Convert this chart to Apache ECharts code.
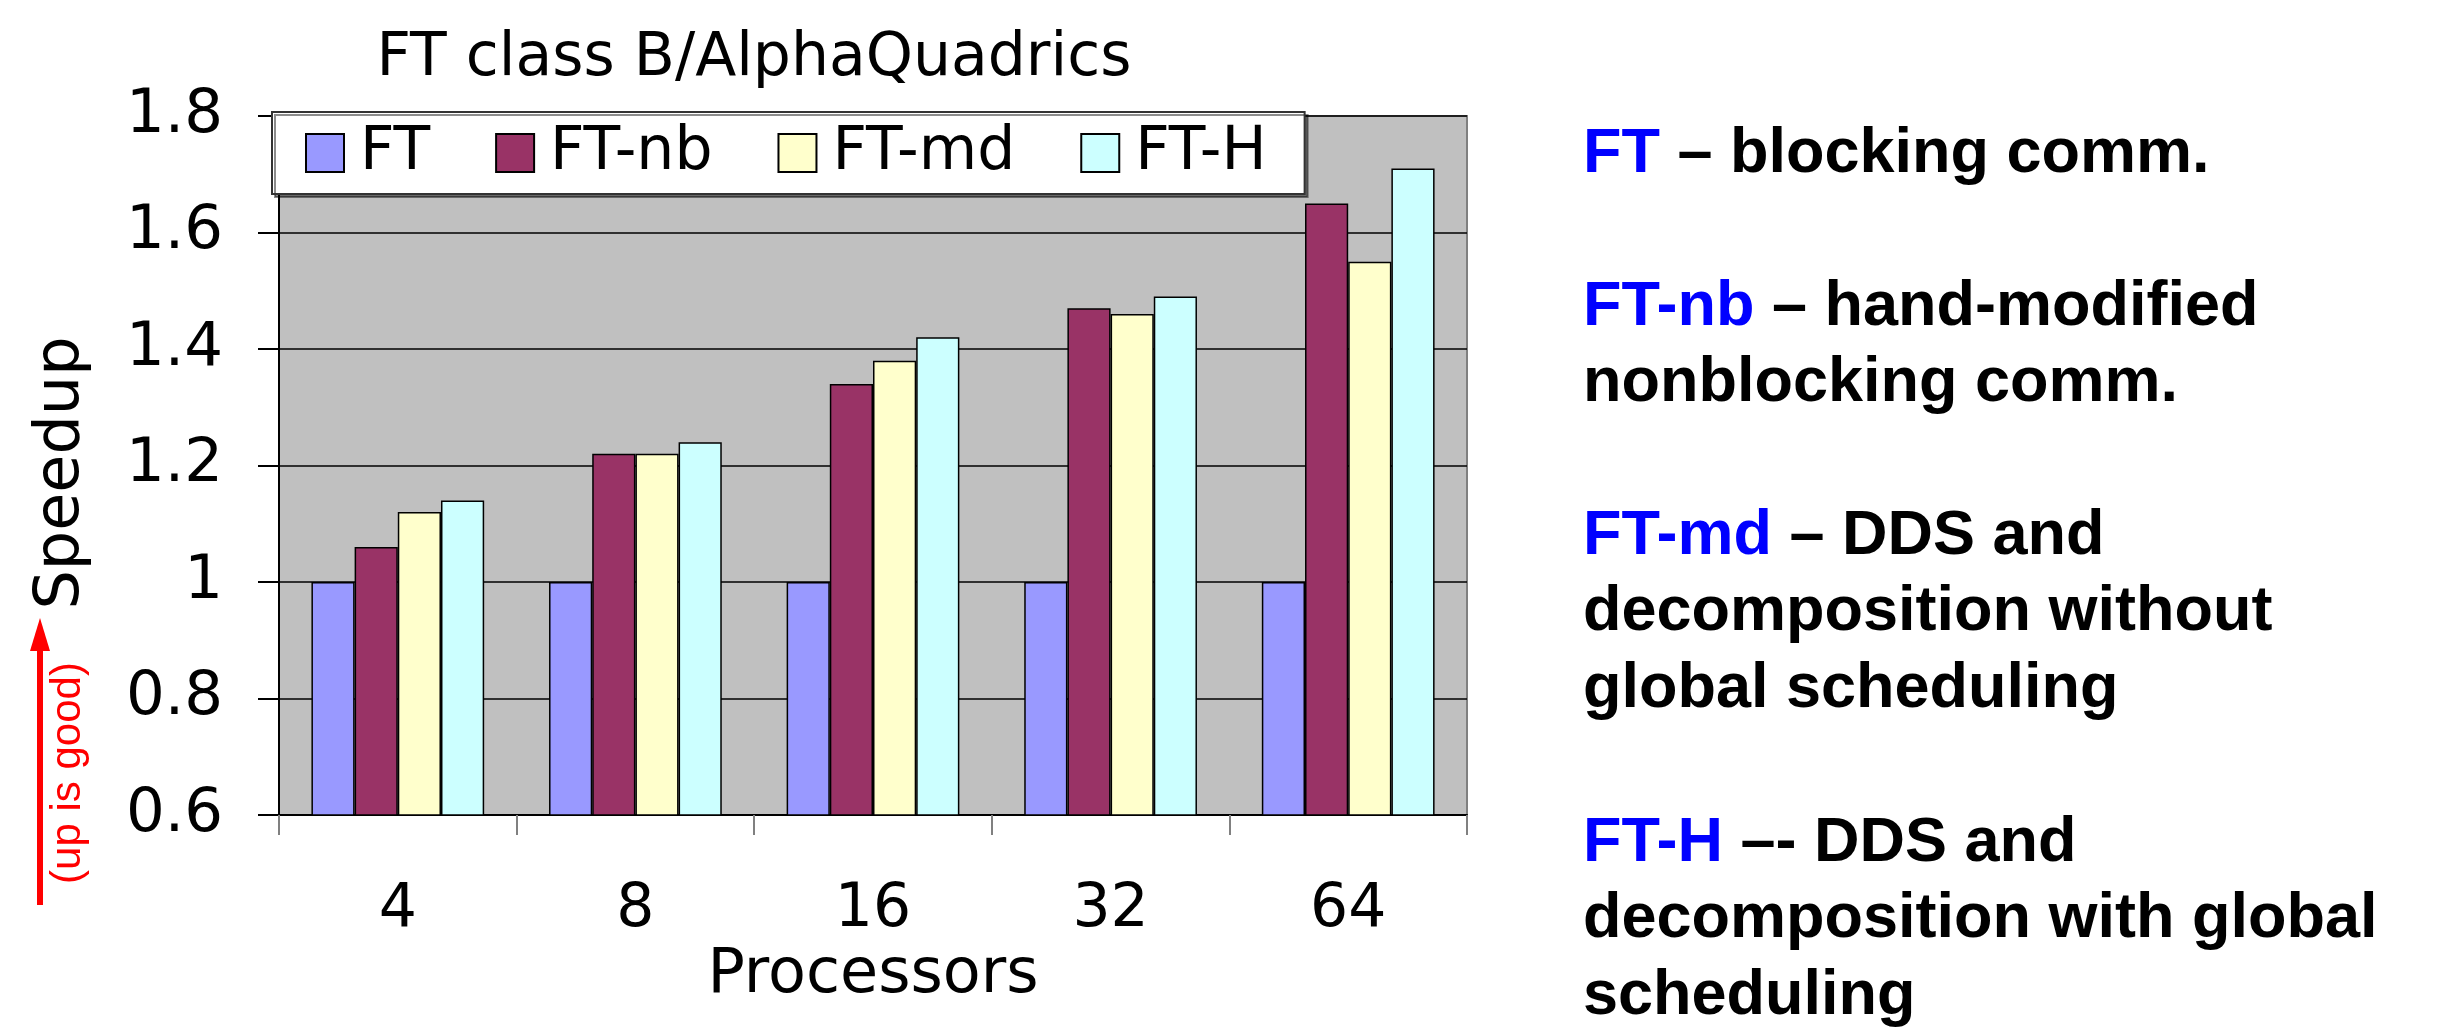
<!DOCTYPE html>
<html>
<head>
<meta charset="utf-8">
<script src="https://cdn.jsdelivr.net/npm/echarts@6/dist/echarts.min.js"></script>
<style>
  html, body { margin: 0; padding: 0; background: #fff; }
  #main { width: 2443px; height: 1035px; }
</style>
</head>
<body>
<div id="main"></div>
<script>
// processors on the x axis
const processors = ['4', '8', '16', '32', '64'];
// speedup per variant
const ftBlocking = [1.0, 1.0, 1.0, 1.0, 1.0];
const ftNb = [1.06, 1.22, 1.34, 1.47, 1.65];
const ftMd = [1.12, 1.22, 1.38, 1.46, 1.55];
const ftH = [1.14, 1.24, 1.42, 1.49, 1.71];
const seriesNames = ['FT', 'FT-nb', 'FT-md', 'FT-H'];
const seriesColors = ['#9999FF', '#993366', '#FFFFCC', '#CCFFFF'];
// explanation on the right: [blue part, black part]
const notes = [
  ['FT', ' – blocking comm.'],
  ['FT-nb', ' – hand-modified\nnonblocking comm.'],
  ['FT-md', ' – DDS and\ndecomposition without\nglobal scheduling'],
  ['FT-H', ' –- DDS and\ndecomposition with global\nscheduling']
];
const noteTops = [116, 269, 498, 805];

const chart = echarts.init(document.getElementById('main'));

const axisFont = 'DejaVu Sans';
const noteFont = 'bold 63px "Liberation Sans", Arial, sans-serif';
const lh = 76.5;

const dataSets = [ftBlocking, ftNb, ftMd, ftH];

const noteGraphics = notes.map((n, i) => ({
  type: 'text',
  left: 1583,
  top: noteTops[i],
  style: {
    text: '{b|' + n[0] + '}' + n[1].split('\n').map(s => '{k|' + s + '}').join('\n'),
    font: noteFont,
    fill: '#000',
    lineHeight: lh,
    rich: {
      b: { fill: '#0000FF', font: noteFont, lineHeight: lh },
      k: { fill: '#000', font: noteFont, lineHeight: lh }
    }
  }
}));

chart.setOption({
  animation: false,
  backgroundColor: '#fff',
  title: {
    text: 'FT class B/AlphaQuadrics',
    left: 754,
    top: 59,
    padding: 0,
    textAlign: 'center',
    textVerticalAlign: 'middle',
    textStyle: { fontFamily: axisFont, fontSize: 60, fontWeight: 'normal', color: '#000' }
  },
  legend: {
    left: 272,
    top: 112,
    padding: [11, 38, 11, 33],
    itemWidth: 38,
    itemHeight: 38,
    itemGap: 65,
    icon: 'rect',
    backgroundColor: '#fff',
    borderColor: '#333',
    borderWidth: 2,
    shadowColor: 'rgba(0,0,0,0.45)',
    shadowOffsetX: 3,
    shadowOffsetY: 3,
    shadowBlur: 0,
    textStyle: { fontFamily: axisFont, fontSize: 60, color: '#000', padding: [0, 0, 0, 11] },
    data: seriesNames
  },
  grid: {
    left: 279,
    right: 976,
    top: 116,
    bottom: 220,
    show: true,
    backgroundColor: '#C0C0C0',
    borderColor: '#808080',
    borderWidth: 2
  },
  xAxis: {
    type: 'category',
    data: processors,
    name: 'Processors',
    nameLocation: 'middle',
    nameGap: 127,
    nameTextStyle: { fontFamily: axisFont, fontSize: 62, color: '#000' },
    axisLine: { lineStyle: { color: '#000', width: 2 } },
    axisTick: { show: true, length: 20, lineStyle: { color: '#808080', width: 2 } },
    axisLabel: { fontFamily: axisFont, fontSize: 60, color: '#000', margin: 65 }
  },
  yAxis: {
    type: 'value',
    min: 0.6,
    max: 1.8,
    interval: 0.2,
    axisLine: { show: true, lineStyle: { color: '#000', width: 2 } },
    axisTick: { show: true, length: 21, lineStyle: { color: '#000', width: 2 } },
    axisLabel: { fontFamily: axisFont, fontSize: 61, color: '#000', margin: 56, padding: [8, 0, 0, 0] },
    splitLine: { lineStyle: { color: '#000', width: 1.5 } }
  },
  series: dataSets.map((d, i) => ({
    name: seriesNames[i],
    type: 'bar',
    data: d,
    barGap: '0%',
    barCategoryGap: '27.3%',
    itemStyle: { color: seriesColors[i], borderColor: '#000', borderWidth: 1.5 }
  })),
  graphic: [
    {
      type: 'text',
      x: 62, y: 473,
      rotation: Math.PI / 2,
      style: { text: 'Speedup', font: '62px "DejaVu Sans"', fill: '#000', align: 'center', verticalAlign: 'middle' }
    },
    {
      type: 'text',
      x: 68, y: 773,
      rotation: Math.PI / 2,
      style: { text: '(up is good)', font: '42px "Liberation Sans", Arial', fill: '#FF0000', align: 'center', verticalAlign: 'middle' }
    },
    {
      type: 'line',
      shape: { x1: 40, y1: 905, x2: 40, y2: 645 },
      style: { stroke: '#FF0000', lineWidth: 6 }
    },
    {
      type: 'polygon',
      shape: { points: [[30, 651], [50, 651], [40, 618]] },
      style: { fill: '#FF0000' }
    }
  ].concat(noteGraphics)
});
</script>
</body>
</html>
